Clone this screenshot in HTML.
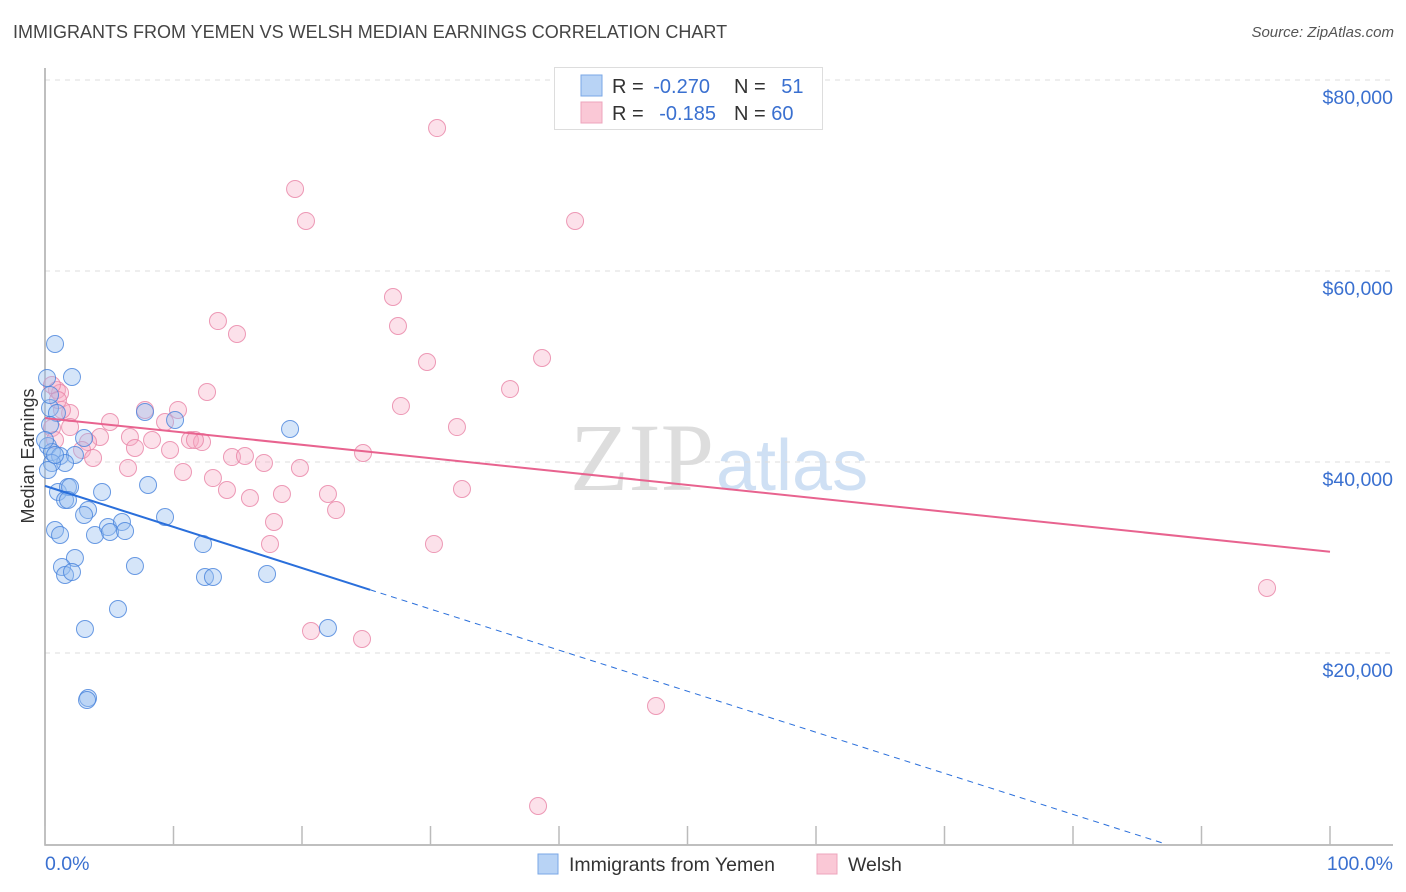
<!DOCTYPE html>
<html><head><meta charset="utf-8"><style>
body{margin:0;background:#fff;font-family:"Liberation Sans",sans-serif;}
#wrap{position:relative;width:1406px;height:892px;overflow:hidden;}
.t{position:absolute;white-space:nowrap;}
</style></head><body>
<div id="wrap">
<div class="t" style="left:13px;top:22px;font-size:18px;color:#444;">IMMIGRANTS FROM YEMEN VS WELSH MEDIAN EARNINGS CORRELATION CHART</div>
<div class="t" style="right:12px;top:24px;font-size:15px;color:#555;font-style:italic;">Source: ZipAtlas.com</div>
<svg id="svg" width="1406" height="892" style="position:absolute;left:0;top:0">
<text x="714" y="490" font-family="Liberation Serif,serif" font-size="96" fill="#ddd" text-anchor="end">ZIP</text>
<text x="716" y="490" font-family="Liberation Sans,sans-serif" font-size="72" fill="#cfe0f4">atlas</text>
<g id="grid"></g><g id="axes"></g><g id="pts"></g><g id="lines"></g>
<text transform="translate(34,456) rotate(-90)" text-anchor="middle" font-size="18" fill="#333">Median Earnings</text>
<text x="45" y="870" font-size="19.5" fill="#3a70d0">0.0%</text>
<text x="1393" y="870" font-size="19.5" fill="#3a70d0" text-anchor="end">100.0%</text>
<g>
<rect x="554.5" y="67.5" width="268" height="62" fill="#fff" stroke="#ddd"/>
<rect x="581" y="75" width="21" height="21" fill="#b8d3f5" stroke="#7aa7e6"/>
<rect x="581" y="102" width="21" height="21" fill="#fac8d6" stroke="#eda5bc"/>
<text x="612" y="93" font-size="20" fill="#333">R = <tspan fill="#3a70d0" dx="4">-0.270</tspan></text>
<text x="734" y="93" font-size="20" fill="#333">N = <tspan fill="#3a70d0" dx="10">51</tspan></text>
<text x="612" y="120" font-size="20" fill="#333">R = <tspan fill="#3a70d0" dx="10">-0.185</tspan></text>
<text x="734" y="120" font-size="20" fill="#333">N = <tspan fill="#3a70d0">60</tspan></text>
</g>
<g>
<rect x="538" y="854" width="20" height="20" fill="#b8d3f5" stroke="#7aa7e6"/>
<text x="569" y="871" font-size="19.5" fill="#333">Immigrants from Yemen</text>
<rect x="817" y="854" width="20" height="20" fill="#fac8d6" stroke="#eda5bc"/>
<text x="848" y="871" font-size="19.5" fill="#333">Welsh</text>
</g>
</svg>
</div>
<script>
const yTicks=[20000,40000,60000,80000];
const yTickLabels=["$20,000","$40,000","$60,000","$80,000"];
const xTicks=[0,10,20,30,40,50,60,70,80,90,100];
const yemenX=[0.78,2.10,0.16,0.39,0.93,0.39,0.23,0.54,1.17,2.33,1.56,3.04,0.54,1.01,1.79,1.95,4.44,1.56,1.79,3.35,3.04,0.78,1.17,3.89,4.90,5.99,5.06,6.23,8.02,9.34,12.30,2.33,1.32,1.56,2.10,7.00,12.45,13.07,17.28,5.68,3.11,22.02,3.35,3.27,19.07,7.78,10.12,0,0.39,0.23,0.78];
const yemenY=[52.36,48.90,48.80,45.65,45.13,43.87,41.68,41.05,40.63,40.73,39.90,42.51,39.90,36.86,37.38,37.38,36.86,36.02,36.02,34.97,34.45,32.88,32.36,32.36,33.19,33.72,32.67,32.77,37.59,34.24,31.41,29.95,29.01,28.17,28.48,29.11,27.96,27.96,28.27,24.61,22.51,22.62,15.29,15.08,43.46,45.24,44.40,42.30,47.02,39.16,40.73];
const welshX=[30.51,19.46,20.31,41.25,27.08,13.46,14.94,27.47,29.73,38.68,36.19,12.61,27.70,32.06,0.93,1.17,0.54,1.95,1.32,5.06,7.78,10.35,9.34,6.61,8.33,11.28,12.22,11.67,4.28,3.35,1.95,0.54,0.78,2.88,3.74,7.00,9.73,14.55,15.56,17.04,19.84,24.75,6.46,10.74,13.07,14.16,15.95,18.44,22.02,32.45,22.65,17.82,17.51,30.27,20.70,24.67,95.10,47.55,38.37,1.01];
const welshY=[74.97,68.59,65.24,65.24,57.28,54.76,53.40,54.24,50.47,50.89,47.64,47.33,45.86,43.66,47.54,47.23,48.06,45.13,45.45,44.19,45.45,45.45,44.19,42.62,42.30,42.30,42.09,42.30,42.62,42.09,43.66,43.56,42.30,41.26,40.42,41.47,41.26,40.52,40.63,39.90,39.37,40.94,39.37,38.95,38.32,37.07,36.23,36.65,36.65,37.17,34.97,33.72,31.41,31.41,22.30,21.47,26.81,14.45,3.98,46.49];
const yemenTrend=[37.5,-0.43];
const welshTrend=[44.6,-0.14];
const yemenSolidEnd=25.3;

const NS="http://www.w3.org/2000/svg";
const X=p=>45+p*12.85;
const Y=v=>844-v/1000*9.55;
function mk(tag,attrs,parent){const e=document.createElementNS(NS,tag);for(const k in attrs)e.setAttribute(k,attrs[k]);parent.appendChild(e);return e;}
const grid=document.getElementById('grid'),axes=document.getElementById('axes'),pts=document.getElementById('pts'),lines=document.getElementById('lines');
yTicks.forEach((v,i)=>{
 const l=mk('line',{x1:45,x2:1393,y1:Y(v),y2:Y(v),stroke:'#ddd','stroke-dasharray':'5,5'},grid);
 
 
 const t=mk('text',{x:1393,y:Y(v)+24,'text-anchor':'end','font-size':19.5,fill:'#3a70d0'},grid);
 t.textContent=yTickLabels[i];
 
 
});
const ax=mk('path',{d:'M45,68 V845 H1393',fill:'none',stroke:'#aaa','stroke-width':1.5},axes);


xTicks.forEach(p=>{
 const t=mk('line',{x1:X(p),x2:X(p),y1:826,y2:845,stroke:'#bbb','stroke-width':1.5},axes);
 
 
});
welshX.forEach((x,i)=>{
 const c=mk('circle',{cx:X(x),cy:Y(welshY[i]*1000),r:8.5,fill:'rgba(246,170,195,0.35)',stroke:'rgba(232,130,165,0.8)','stroke-width':1},pts);
 
 
});
yemenX.forEach((x,i)=>{
 const c=mk('circle',{cx:X(x),cy:Y(yemenY[i]*1000),r:8.5,fill:'rgba(150,190,240,0.4)',stroke:'rgba(70,130,220,0.8)','stroke-width':1},pts);
 
 
});
const yf=p=>(yemenTrend[0]+yemenTrend[1]*p)*1000;
const zeroP=-yemenTrend[0]/yemenTrend[1];
const l1=mk('line',{x1:X(0),y1:Y(yf(0)),x2:X(yemenSolidEnd),y2:Y(yf(yemenSolidEnd)),stroke:'#2a6fdb','stroke-width':2},lines);


const l2=mk('line',{x1:X(yemenSolidEnd),y1:Y(yf(yemenSolidEnd)),x2:X(zeroP),y2:Y(0),stroke:'#2a6fdb','stroke-width':1,'stroke-dasharray':'6,5'},lines);


const wf=p=>(welshTrend[0]+welshTrend[1]*p)*1000;
const l3=mk('line',{x1:X(0),y1:Y(wf(0)),x2:X(100),y2:Y(wf(100)),stroke:'#e8638f','stroke-width':2},lines);


</script>
</body></html>
